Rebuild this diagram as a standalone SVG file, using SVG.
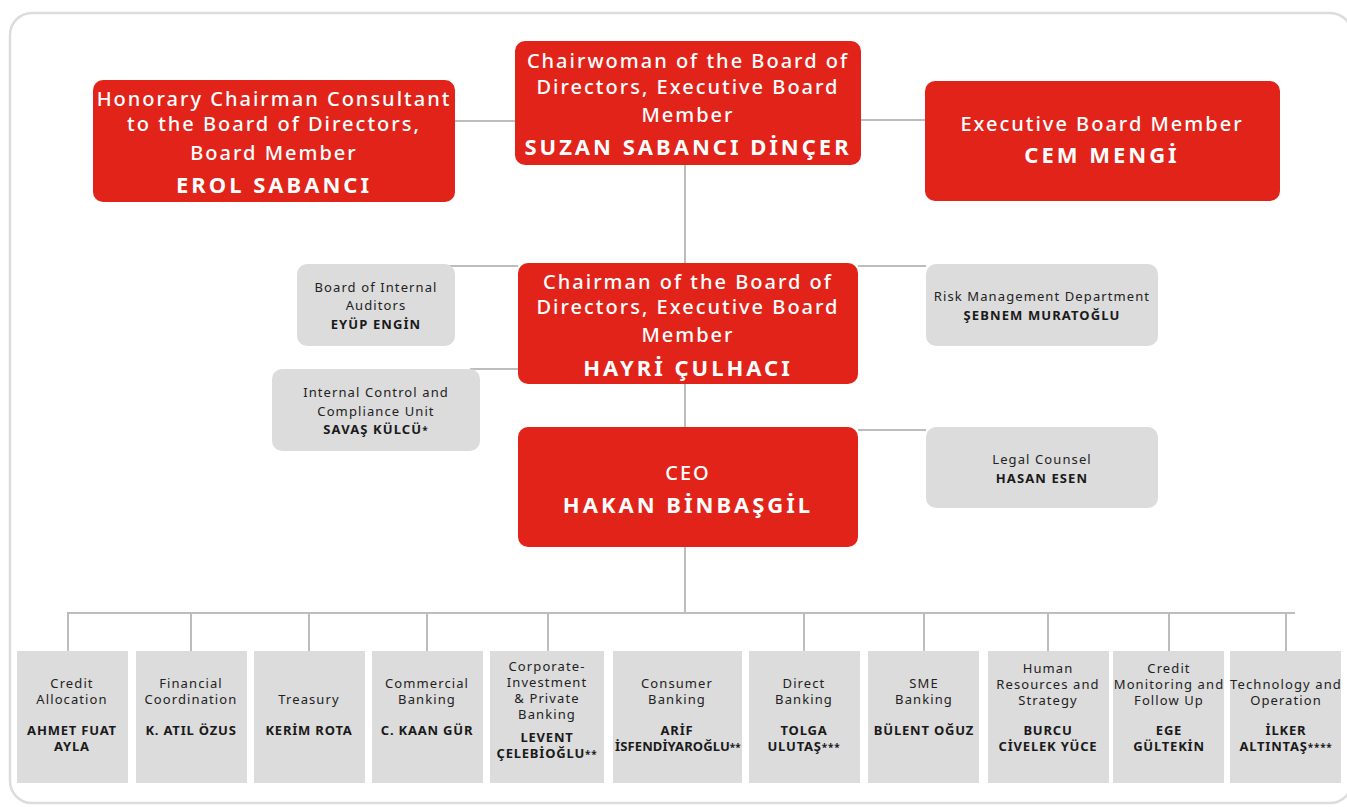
<svg xmlns="http://www.w3.org/2000/svg" width="1347" height="807" viewBox="0 0 1347 807">
<style>
.frame{fill:#fff;stroke:#dcdcdc;stroke-width:2.5}
.red{fill:#e2231a}
.grey{fill:#dcdcdc}
.con{fill:none;stroke:#bdbdbd;stroke-width:2}
.rt{font-family:"Noto Sans","Open Sans","DejaVu Sans",sans-serif;font-size:20px;font-weight:500;fill:#fff;letter-spacing:2px;text-anchor:middle}
.rn{font-family:"Noto Sans","Open Sans","DejaVu Sans",sans-serif;font-size:22px;font-weight:bold;fill:#fff;letter-spacing:3px;text-anchor:middle}
.gt{font-family:"Noto Sans","Open Sans","DejaVu Sans",sans-serif;font-size:13px;fill:#222;letter-spacing:1.1px;text-anchor:middle}
.gn{font-family:"Noto Sans","Open Sans","DejaVu Sans",sans-serif;font-size:13px;font-weight:bold;fill:#1a1a1a;letter-spacing:1.1px;text-anchor:middle}
.bn{font-family:"Noto Sans","Open Sans","DejaVu Sans",sans-serif;font-size:13px;font-weight:bold;fill:#1a1a1a;letter-spacing:0.8px;text-anchor:middle}
.tight{letter-spacing:0.1px}
.ast{font-size:10px}
</style>
<rect class="frame" x="10" y="13" width="1342" height="790" rx="22"/>
<g id="connectors">
<path class="con" d="M455 121H515M861 120H925M685 165V263M440 266H518M858 266H926M470 369H518M685 384V427M858 430H926M685 547V613M67 613H1295"/>
<path class="con" d="M68 613V651M191 613V651M309 613V651M427 613V651M548 613V651M804 613V651M924 613V651M1048 613V651M1169 613V651M1286 613V651"/>
</g>
<g id="honorary">
<rect class="red" x="93" y="80" width="362" height="122" rx="10"/>
<text class="rt" x="274" y="106">Honorary Chairman Consultant</text>
<text class="rt" x="274" y="131">to the Board of Directors,</text>
<text class="rt" x="274" y="160">Board Member</text>
<text class="rn" x="274" y="193">EROL SABANCI</text>
</g>
<g id="chairwoman">
<rect class="red" x="515" y="41" width="346" height="124" rx="10"/>
<text class="rt" x="688" y="68">Chairwoman of the Board of</text>
<text class="rt" x="688" y="94">Directors, Executive Board</text>
<text class="rt" x="688" y="122">Member</text>
<text class="rn" x="688" y="155">SUZAN SABANCI DİNÇER</text>
</g>
<g id="executive">
<rect class="red" x="925" y="81" width="355" height="120" rx="10"/>
<text class="rt" x="1102" y="131">Executive Board Member</text>
<text class="rn" x="1102" y="163">CEM MENGİ</text>
</g>
<g id="chairman">
<rect class="red" x="518" y="263" width="340" height="121" rx="10"/>
<text class="rt" x="688" y="289">Chairman of the Board of</text>
<text class="rt" x="688" y="314">Directors, Executive Board</text>
<text class="rt" x="688" y="342">Member</text>
<text class="rn" x="688" y="376">HAYRİ ÇULHACI</text>
</g>
<g id="auditors">
<rect class="grey" x="297" y="264" width="158" height="82" rx="10"/>
<text class="gt" x="376" y="292">Board of Internal</text>
<text class="gt" x="376" y="310">Auditors</text>
<text class="gn" x="376" y="329">EYÜP ENGİN</text>
</g>
<g id="risk">
<rect class="grey" x="926" y="264" width="232" height="82" rx="10"/>
<text class="gt" x="1042" y="301">Risk Management Department</text>
<text class="gn" x="1042" y="320">ŞEBNEM MURATOĞLU</text>
</g>
<g id="internal-control">
<rect class="grey" x="272" y="369" width="208" height="82" rx="10"/>
<text class="gt" x="376" y="397">Internal Control and</text>
<text class="gt" x="376" y="416">Compliance Unit</text>
<text class="gn" x="376" y="434">SAVAŞ KÜLCÜ<tspan class="ast">*</tspan></text>
</g>
<g id="ceo">
<rect class="red" x="518" y="427" width="340" height="120" rx="10"/>
<text class="rt" x="688" y="480">CEO</text>
<text class="rn" x="688" y="513">HAKAN BİNBAŞGİL</text>
</g>
<g id="legal">
<rect class="grey" x="926" y="427" width="232" height="81" rx="10"/>
<text class="gt" x="1042" y="464">Legal Counsel</text>
<text class="gn" x="1042" y="483">HASAN ESEN</text>
</g>
<g id="credit-allocation">
<rect class="grey" x="17" y="651" width="111" height="132"/>
<text class="gt" x="72" y="688">Credit</text>
<text class="gt" x="72" y="704">Allocation</text>
<text class="bn" x="72" y="735">AHMET FUAT</text>
<text class="bn" x="72" y="751">AYLA</text>
</g>
<g id="financial-coordination">
<rect class="grey" x="136" y="651" width="111" height="132"/>
<text class="gt" x="191" y="688">Financial</text>
<text class="gt" x="191" y="704">Coordination</text>
<text class="bn" x="191" y="735">K. ATIL ÖZUS</text>
</g>
<g id="treasury">
<rect class="grey" x="254" y="651" width="111" height="132"/>
<text class="gt" x="309" y="704">Treasury</text>
<text class="bn" x="309" y="735">KERİM ROTA</text>
</g>
<g id="commercial">
<rect class="grey" x="372" y="651" width="111" height="132"/>
<text class="gt" x="427" y="688">Commercial</text>
<text class="gt" x="427" y="704">Banking</text>
<text class="bn" x="427" y="735">C. KAAN GÜR</text>
</g>
<g id="corporate">
<rect class="grey" x="490" y="651" width="114" height="132"/>
<text class="gt" x="547" y="671">Corporate-</text>
<text class="gt" x="547" y="687">Investment</text>
<text class="gt" x="547" y="703">&amp; Private</text>
<text class="gt" x="547" y="719">Banking</text>
<text class="bn" x="547" y="742">LEVENT</text>
<text class="bn" x="547" y="758">ÇELEBİOĞLU<tspan class="ast">**</tspan></text>
</g>
<g id="consumer">
<rect class="grey" x="613" y="651" width="129" height="132"/>
<text class="gt" x="677" y="688">Consumer</text>
<text class="gt" x="677" y="704">Banking</text>
<text class="bn" x="677" y="735">ARİF</text>
<text class="bn tight" x="678" y="751">İSFENDİYAROĞLU<tspan class="ast">**</tspan></text>
</g>
<g id="direct">
<rect class="grey" x="749" y="651" width="111" height="132"/>
<text class="gt" x="804" y="688">Direct</text>
<text class="gt" x="804" y="704">Banking</text>
<text class="bn" x="804" y="735">TOLGA</text>
<text class="bn" x="804" y="751">ULUTAŞ<tspan class="ast">***</tspan></text>
</g>
<g id="sme">
<rect class="grey" x="868" y="651" width="111" height="132"/>
<text class="gt" x="924" y="688">SME</text>
<text class="gt" x="924" y="704">Banking</text>
<text class="bn" x="924" y="735">BÜLENT OĞUZ</text>
</g>
<g id="hr">
<rect class="grey" x="988" y="651" width="121" height="132"/>
<text class="gt" x="1048" y="673">Human</text>
<text class="gt" x="1048" y="689">Resources and</text>
<text class="gt" x="1048" y="705">Strategy</text>
<text class="bn" x="1048" y="735">BURCU</text>
<text class="bn" x="1048" y="751">CİVELEK YÜCE</text>
</g>
<g id="credit-monitoring">
<rect class="grey" x="1113" y="651" width="111" height="132"/>
<text class="gt" x="1169" y="673">Credit</text>
<text class="gt" x="1169" y="689">Monitoring and</text>
<text class="gt" x="1169" y="705">Follow Up</text>
<text class="bn" x="1169" y="735">EGE</text>
<text class="bn" x="1169" y="751">GÜLTEKİN</text>
</g>
<g id="technology">
<rect class="grey" x="1230" y="651" width="111" height="132"/>
<text class="gt" x="1286" y="689">Technology and</text>
<text class="gt" x="1286" y="705">Operation</text>
<text class="bn" x="1286" y="735">İLKER</text>
<text class="bn" x="1286" y="751">ALTINTAŞ<tspan class="ast">****</tspan></text>
</g>
</svg>
